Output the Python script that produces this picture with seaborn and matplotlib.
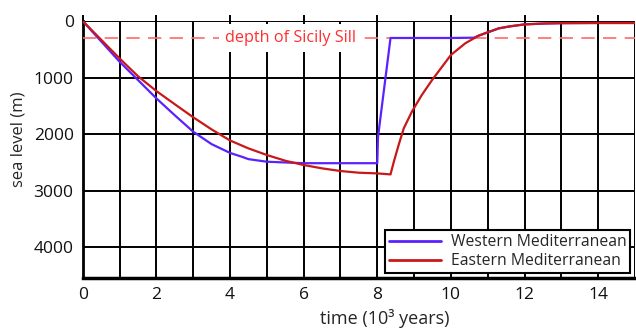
import numpy as np
import pandas as pd
import matplotlib
matplotlib.use("Agg")
import matplotlib.pyplot as plt
import seaborn as sns
from matplotlib.ticker import MultipleLocator

# ---- data (time in 10^3 years, sea level drop in m) ----
west_t = [0, 1, 1.5, 2, 2.5, 3, 3.5, 4, 4.33, 4.5, 5, 6, 7, 8.0, 8.02, 8.36, 9, 10, 10.63,
          10.75, 11, 11.3, 11.6, 12, 12.5, 13, 14, 15]
west_v = [0, 718, 1042, 1366, 1665, 1955, 2175, 2330, 2400, 2440, 2486, 2512, 2512, 2512, 2050, 300, 300, 300, 295,
          260, 200, 130, 95, 60, 45, 38, 35, 35]
east_t = [0, 1, 1.5, 2, 2.5, 3, 3.5, 4, 4.5, 5, 5.5, 6, 6.5, 7, 7.5, 8, 8.36,
          8.45, 8.58, 8.72, 8.94, 9.21, 9.49, 10, 10.39, 10.75, 11, 11.3, 11.6, 12, 12.5, 13, 14, 15]
east_v = [0, 660, 975, 1237, 1470, 1700, 1915, 2110, 2250, 2367, 2468, 2544, 2603, 2650, 2680, 2692, 2710,
          2486, 2191, 1896, 1602, 1307, 1042, 600, 394, 260, 200, 130, 95, 60, 45, 38, 35, 35]
series_names = ["Western Mediterranean", "Eastern Mediterranean"]
sill_depth = 300
sill_label = "depth of Sicily Sill"

df = pd.concat([
    pd.DataFrame({"t": west_t, "v": west_v, "region": series_names[0]}),
    pd.DataFrame({"t": east_t, "v": east_v, "region": series_names[1]}),
])

sns.set_style("white")
plt.rcParams["font.family"] = ["Open Sans", "DejaVu Sans"]

fig = plt.figure(figsize=(6.36, 3.31), dpi=100)
ax = fig.add_axes([82.7/636, 1-278/331, 552.3/636, (278-21)/331])

palette = {series_names[0]: "#5a22ff", series_names[1]: "#c81818"}
sns.lineplot(data=df, x="t", y="v", hue="region", palette=palette, sort=False,
             estimator=None, lw=1.6, ax=ax, zorder=5)

ax.set_xlim(0, 15)
ax.set_ylim(4540, 0)

# grid: verticals every 1, horizontals every 1000
for xv in range(0, 16):
    ax.axvline(xv, color="black", lw=1.4, zorder=1)
for yv in range(0, 5000, 1000):
    ax.axhline(yv, color="black", lw=1.4, zorder=1)

ax.axhline(sill_depth, color="#ff6a6a", lw=1.2, ls=(0, (8, 5)), zorder=3)
ax.text(5.64, sill_depth, sill_label, color="#ff3030", fontsize=11.7, ha="center", va="center",
        bbox=dict(facecolor="white", edgecolor="none", pad=4), zorder=4)

for s in ["top", "right"]:
    ax.spines[s].set_visible(False)
ax.spines["left"].set_linewidth(2)
ax.spines["bottom"].set_linewidth(2.5)
ax.spines["left"].set_color("black")
ax.spines["bottom"].set_color("black")

ax.set_xticks(range(0, 16, 2))
ax.set_xticklabels([str(v) for v in range(0, 16, 2)])
ax.set_yticks(range(0, 5000, 1000))
ax.set_yticklabels([str(v) for v in range(0, 5000, 1000)])
ax.yaxis.set_minor_locator(MultipleLocator(500))

ax.tick_params(axis="both", which="major", labelsize=12.5, length=4, width=1.4, color="black",
               direction="out", labelcolor="#111111", pad=2.5)
ax.tick_params(axis="y", which="minor", length=4, width=1.2, color="black", direction="out")
ax.tick_params(axis="x", which="major", top=True)

ax.set_xlabel("time (10³ years)", fontsize=13)
ax.set_ylabel("sea level (m)", fontsize=12)
ax.xaxis.set_label_coords((384.5 - 82.7) / 552.3, -(318 - 278) / 257, transform=ax.transAxes)
ax.xaxis.label.set_va("center")
ax.yaxis.set_label_coords(-(83 - 19) / 552.3, (278 - 139.5) / 257, transform=ax.transAxes)
ax.yaxis.label.set_va("center")

leg = ax.legend(loc="lower right", fontsize=11.3, frameon=True, fancybox=False,
                edgecolor="black", framealpha=1, borderpad=0.25, handlelength=3.3,
                handletextpad=0.6, labelspacing=0.2, borderaxespad=0.3)
leg.get_frame().set_linewidth(1.5)
leg.set_zorder(10)
for line in leg.get_lines():
    line.set_linewidth(2)

fig.savefig("out.png", dpi=100)
